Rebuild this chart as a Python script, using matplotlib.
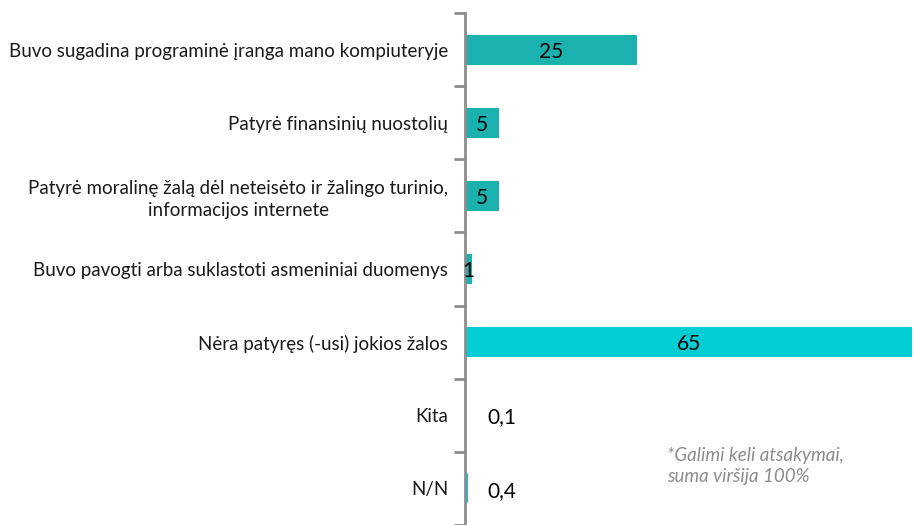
import matplotlib.pyplot as plt
import numpy as np

plt.rcParams['font.family'] = ['Lato', 'DejaVu Sans']

categories = [
    "Buvo sugadina programinė įranga mano kompiuteryje",
    "Patyrė finansinių nuostolių",
    "Patyrė moralinę žalą dėl neteisėto ir žalingo turinio,\ninformacijos internete",
    "Buvo pavogti arba suklastoti asmeniniai duomenys",
    "Nėra patyręs (-usi) jokios žalos",
    "Kita",
    "N/N",
]
values = [25, 5, 5, 1, 65, 0.1, 0.4]
value_labels = ["25", "5", "5", "1", "65", "0,1", "0,4"]
colors = ['#1bb1ae', '#1bb1ae', '#1bb1ae', '#1bb1ae', '#00ced4', '#b8e8ea', '#00ced4']

fig = plt.figure(figsize=(9.14, 5.25), dpi=100)
ax = fig.add_axes([465 / 914, 0, 447 / 914, 1 - 13 / 525])

y = np.arange(len(categories))
ax.barh(y, values, height=0.41, color=colors)

for i, (v, lab) in enumerate(zip(values, value_labels)):
    if v >= 1:
        ax.text(v / 2, i + 0.03, lab, ha='center', va='center', fontsize=15, color='black')
    else:
        ax.text(3.2, i + 0.03, lab, ha='left', va='center', fontsize=15, color='black')

ax.set_xlim(0, 65)
ax.set_ylim(len(categories) - 0.5, -0.5)
ax.set_yticks(y)
ax.set_yticklabels(categories, fontsize=13.5, color='#1a1a1a', ha='right')
ax.tick_params(axis='y', which='major', length=0, pad=12)
ax.set_yticks(np.arange(len(categories) + 1) - 0.5, minor=True)
ax.tick_params(axis='y', which='minor', length=8, width=2, color='#8c8c8c', direction='out')
for lab in ax.get_yticklabels():
    lab.set_multialignment('center')
    lab.set_linespacing(1.35)

ax.set_xticks([])
for s in ['top', 'right', 'bottom']:
    ax.spines[s].set_visible(False)
ax.spines['left'].set_color('#8c8c8c')
ax.spines['left'].set_linewidth(2)

fig.text(667 / 914, 1 - 466 / 525, "*Galimi keli atsakymai,\nsuma viršija 100%",
         fontsize=13.5, style='italic', color='#8c8c8c', va='center', ha='left',
         linespacing=1.3)

fig.savefig('out.png', dpi=100)
